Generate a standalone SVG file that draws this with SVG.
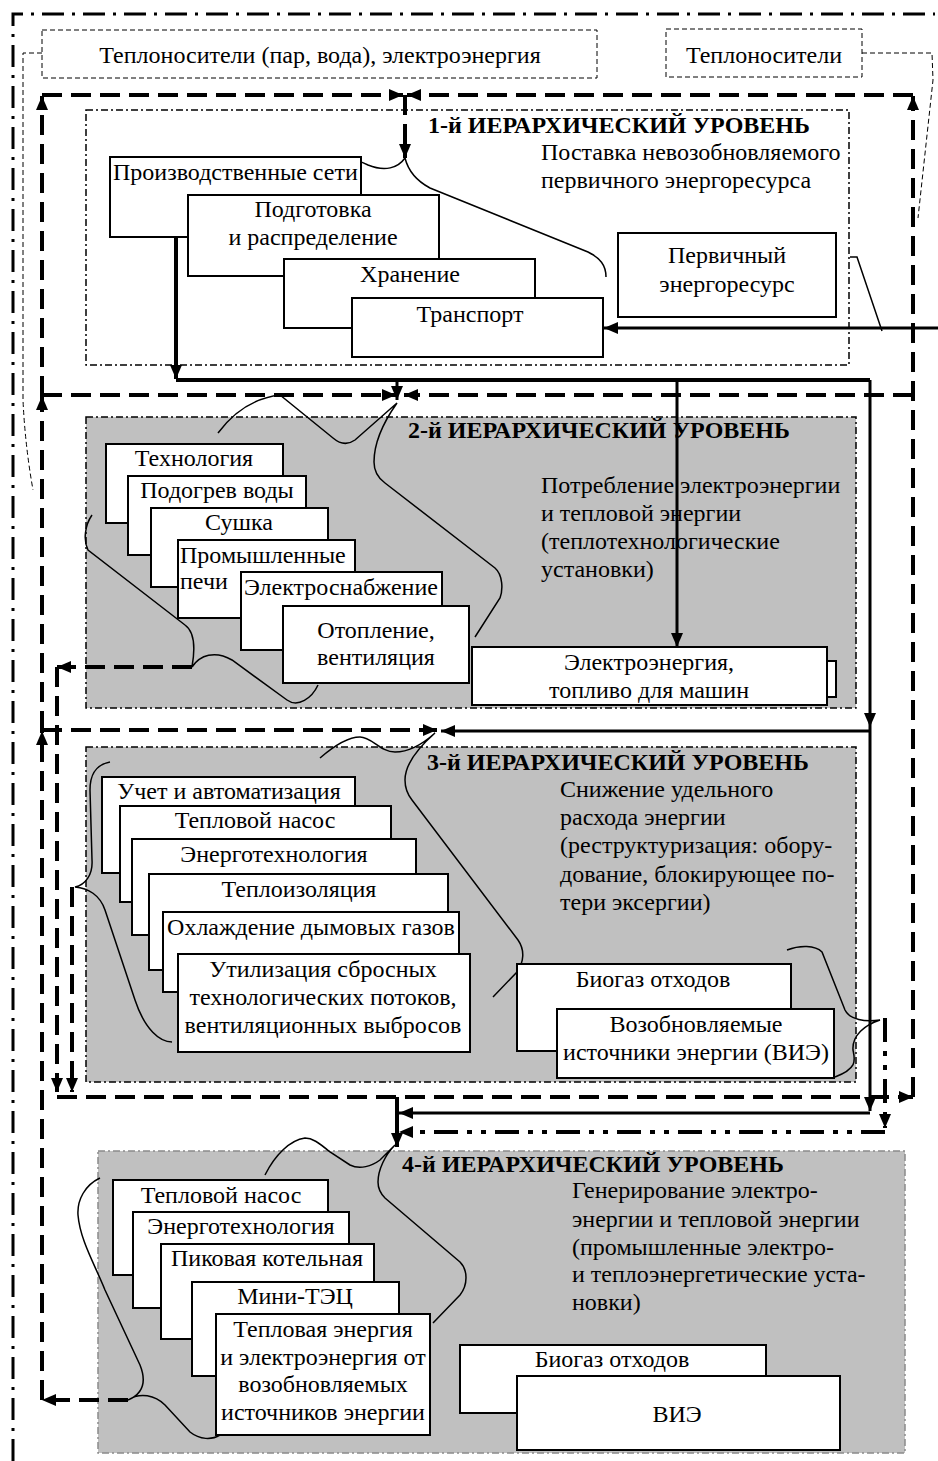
<svg xmlns="http://www.w3.org/2000/svg" width="938" height="1461" viewBox="0 0 938 1461">
<style>
.t{font-family:"Liberation Serif","Times New Roman",serif;font-size:24px;fill:#000}
.c{text-anchor:middle}
.b{font-weight:bold}
.box{fill:#fff;stroke:#000;stroke-width:2}
.lv{stroke:#000;stroke-width:1.5;stroke-dasharray:7 3 2 3}
.lv4{stroke:#8a8a8a;stroke-width:1.5;stroke-dasharray:7 3 2 3}
.br{fill:none;stroke:#000;stroke-width:1.5}
.dsh{fill:none;stroke:#000;stroke-width:4;stroke-dasharray:20 9}
.sol{fill:none;stroke:#000;stroke-width:4}
.sol3{fill:none;stroke:#000;stroke-width:3}
.ddt{fill:none;stroke:#000;stroke-width:4;stroke-dasharray:24 9 5 9 5 9}
.thd{fill:none;stroke:#000;stroke-width:1;stroke-dasharray:5 3}
.frm{fill:none;stroke:#000;stroke-width:3;stroke-dasharray:22 8 3 8}
</style>
<defs>
<marker id="ah" markerWidth="14" markerHeight="12" refX="14" refY="6" orient="auto" markerUnits="userSpaceOnUse"><path d="M0,0 L14,6 L0,12 z" fill="#000"/></marker>
</defs>
<rect width="938" height="1461" fill="#fff"/>

<!-- outer frame -->
<path class="frm" d="M13 1461 L13 14 L935 14"/>

<!-- top labels -->
<g id="carriers">
<rect class="thd" x="42" y="30" width="555" height="48" fill="#fff"/>
<text class="t c" x="320" y="63">Теплоносители (пар, вода), электроэнергия</text>
</g>
<g id="carriers2">
<rect class="thd" x="666" y="29" width="196" height="48" fill="#fff"/>
<text class="t c" x="764" y="63">Теплоносители</text>
</g>

<!-- level containers -->
<g id="level1">
<rect class="lv" x="86" y="110" width="763" height="255" fill="#fff"/>
<text class="t b" x="428" y="133">1-й ИЕРАРХИЧЕСКИЙ УРОВЕНЬ</text>
<text class="t" x="541" y="160">Поставка невозобновляемого</text>
<text class="t" x="541" y="188">первичного энергоресурса</text>
</g>
<g id="level2">
<rect class="lv" x="86" y="417" width="770" height="291" fill="#c0c0c0"/>
<text class="t b" x="408" y="438">2-й ИЕРАРХИЧЕСКИЙ УРОВЕНЬ</text>
<text class="t" x="541" y="493">Потребление электроэнергии</text>
<text class="t" x="541" y="521">и тепловой энергии</text>
<text class="t" x="541" y="549">(теплотехнологические</text>
<text class="t" x="541" y="577">установки)</text>
</g>
<g id="level3">
<rect class="lv" x="86" y="747" width="770" height="335" fill="#c0c0c0"/>
<text class="t b" x="427" y="770">3-й ИЕРАРХИЧЕСКИЙ УРОВЕНЬ</text>
<text class="t" x="560" y="797">Снижение удельного</text>
<text class="t" x="560" y="825">расхода энергии</text>
<text class="t" x="560" y="853">(реструктуризация: обору-</text>
<text class="t" x="560" y="882">дование, блокирующее по-</text>
<text class="t" x="560" y="910">тери эксергии)</text>
</g>
<g id="level4">
<rect class="lv4" x="98" y="1151" width="807" height="302" fill="#c0c0c0"/>
<text class="t b" x="402" y="1172">4-й ИЕРАРХИЧЕСКИЙ УРОВЕНЬ</text>
<text class="t" x="572" y="1198">Генерирование электро-</text>
<text class="t" x="572" y="1227">энергии и тепловой энергии</text>
<text class="t" x="572" y="1255">(промышленные электро-</text>
<text class="t" x="572" y="1282">и теплоэнергетические уста-</text>
<text class="t" x="572" y="1310">новки)</text>
</g>

<!-- connectors and braces -->
<g id="connectors">
<path class="thd" d="M42 53 L23 53 L23 400 Q25 445 33 490"/>
<path class="thd" d="M862 53 L932 53 L933 80 L918 218"/>
<path class="dsh" d="M42 95 L403 95" marker-end="url(#ah)"/>
<path class="dsh" d="M913 95 L407 95" marker-end="url(#ah)"/>
<path class="dsh" d="M405 95 L405 158" marker-end="url(#ah)"/>
<path class="dsh" d="M42 396 L42 96" marker-end="url(#ah)"/>
<path class="dsh" d="M913 1097 L913 96" marker-end="url(#ah)"/>
<path class="dsh" d="M42 395 L396 395" marker-end="url(#ah)"/>
<path class="dsh" d="M913 395 L404 395" marker-end="url(#ah)"/>
<path class="dsh" d="M42 731 L42 396" marker-end="url(#ah)"/>
<path class="dsh" d="M192 667 L57 667" marker-end="url(#ah)"/>
<path class="dsh" d="M57 667 L57 1092" marker-end="url(#ah)"/>
<path class="dsh" d="M42 730 L437 730" marker-end="url(#ah)"/>
<path class="dsh" d="M42 1400 L42 731" marker-end="url(#ah)"/>
<path class="dsh" d="M72 887 L72 1092" marker-end="url(#ah)"/>
<path class="dsh" d="M57 1097 L913 1097" marker-end="url(#ah)"/>
<path class="dsh" d="M128 1400 L42 1400" marker-end="url(#ah)"/>
<path class="sol" d="M397 1097 L397 1147" marker-end="url(#ah)"/>
<path class="sol" d="M176 237 L176 379" marker-end="url(#ah)"/>
<path class="sol" d="M176 380 L870 380"/>
<path class="sol3" d="M397 380 L397 400" marker-end="url(#ah)"/>
<path class="sol3" d="M677 380 L677 647" marker-end="url(#ah)"/>
<path class="sol3" d="M870 380 L870 727" marker-end="url(#ah)"/>
<path class="sol3" d="M870 727 L870 1111" marker-end="url(#ah)"/>
<path class="sol3" d="M870 731 L441 731" marker-end="url(#ah)"/>
<path class="sol3" d="M870 1113 L399 1113" marker-end="url(#ah)"/>
<path class="ddt" d="M885 1018 L885 1128" marker-end="url(#ah)"/>
<path class="ddt" d="M885 1132 L399 1132" marker-end="url(#ah)"/>
<path class="sol3" d="M938 328 L604 328" stroke-width="2" marker-end="url(#ah)"/>
<path class="br" d="M850 257 L857 257 L882 331"/>
<path class="br" d="M333 163 C345 155 358 160 368 165 C385 172 398 168 405 158 C408 170 415 180 430 188 L588 252 C600 258 606 265 606 277"/>
<path class="br" d="M218 433 C235 410 255 398 280 395 L333 438 C340 444 348 445 355 440 L397 403 C385 420 374 440 374 462 C374 472 378 478 385 483 L495 568 C503 575 503 590 500 598 L475 637"/>
<path class="br" d="M92 515 C85 525 83 540 88 550 L185 625 C195 632 195 650 192 667 C200 655 215 650 232 660 L287 700 C298 708 312 698 318 685"/>
<path class="br" d="M320 758 C335 745 350 737 360 737 C372 737 380 752 395 752 C410 752 425 742 435 733 C418 748 405 765 405 780 C405 790 408 795 412 800 L518 940 C525 950 524 962 517 972 L493 997"/>
<path class="br" d="M110 762 C95 765 90 775 90 790 L92 860 C93 875 85 885 75 887 C88 888 100 895 105 910 L135 1000 C145 1030 160 1042 172 1042"/>
<path class="br" d="M787 950 C800 945 815 945 822 952 L845 1010 C850 1020 865 1022 880 1020 C865 1025 852 1035 853 1050 C855 1060 858 1068 835 1077"/>
<path class="br" d="M265 1175 C275 1155 290 1140 305 1138 C312 1138 318 1142 330 1152 L350 1165 C360 1170 372 1166 380 1160 L395 1145 C385 1155 378 1170 378 1182 C378 1190 382 1195 385 1198 L460 1262 C468 1270 468 1285 460 1295 L433 1323"/>
<path class="br" d="M100 1178 C85 1185 77 1200 78 1215 C80 1240 95 1265 105 1290 L140 1365 C148 1385 140 1395 128 1400 C140 1392 155 1395 165 1405 L190 1432 C200 1440 212 1440 220 1435"/>
</g>

<!-- level 1 nodes -->
<g id="n-seti"><rect class="box" x="110" y="157" width="251" height="80"/><text class="t" x="113" y="180">Производственные сети</text></g>
<g id="n-podg"><rect class="box" x="188" y="195" width="251" height="81"/><text class="t c" x="313" y="217">Подготовка</text><text class="t c" x="313" y="245">и распределение</text></g>
<g id="n-hran"><rect class="box" x="284" y="259" width="251" height="69"/><text class="t c" x="410" y="282">Хранение</text></g>
<g id="n-trans"><rect class="box" x="352" y="298" width="251" height="59"/><text class="t c" x="470" y="322">Транспорт</text></g>
<g id="n-perv"><rect class="box" x="618" y="233" width="218" height="84"/><text class="t c" x="727" y="263">Первичный</text><text class="t c" x="727" y="292">энергоресурс</text></g>

<!-- level 2 nodes -->
<g id="n-tech"><rect class="box" x="106" y="444" width="177" height="79"/><text class="t c" x="194" y="466">Технология</text></g>
<g id="n-podogr"><rect class="box" x="128" y="476" width="178" height="79"/><text class="t c" x="217" y="498">Подогрев воды</text></g>
<g id="n-sush"><rect class="box" x="151" y="508" width="177" height="79"/><text class="t c" x="239" y="530">Сушка</text></g>
<g id="n-pechi"><rect class="box" x="178" y="540" width="177" height="78"/><text class="t" x="180" y="563">Промышленные</text><text class="t" x="180" y="589">печи</text></g>
<g id="n-elsn"><rect class="box" x="241" y="572" width="201" height="78"/><text class="t c" x="341" y="595">Электроснабжение</text></g>
<g id="n-otop"><rect class="box" x="283" y="606" width="186" height="77"/><text class="t c" x="376" y="638">Отопление,</text><text class="t c" x="376" y="665">вентиляция</text></g>
<g id="n-eltop"><rect class="box" x="827" y="661" width="9" height="36"/><rect class="box" x="472" y="647" width="355" height="58"/><text class="t c" x="649" y="670">Электроэнергия,</text><text class="t c" x="649" y="698">топливо для машин</text></g>

<!-- level 3 nodes -->
<g id="n-uchet"><rect class="box" x="102" y="777" width="253" height="96"/><text class="t c" x="229" y="799">Учет и автоматизация</text></g>
<g id="n-tn3"><rect class="box" x="120" y="806" width="271" height="96"/><text class="t c" x="255" y="828">Тепловой насос</text></g>
<g id="n-et3"><rect class="box" x="132" y="839" width="284" height="96"/><text class="t c" x="274" y="862">Энерготехнология</text></g>
<g id="n-izol"><rect class="box" x="149" y="874" width="299" height="96"/><text class="t c" x="299" y="897">Теплоизоляция</text></g>
<g id="n-ohl"><rect class="box" x="163" y="912" width="296" height="80"/><text class="t c" x="311" y="935">Охлаждение дымовых газов</text></g>
<g id="n-util"><rect class="box" x="178" y="954" width="292" height="98"/><text class="t c" x="323" y="977">Утилизация сбросных</text><text class="t c" x="323" y="1005">технологических потоков,</text><text class="t c" x="323" y="1033">вентиляционных выбросов</text></g>
<g id="n-bio3"><rect class="box" x="517" y="964" width="274" height="87"/><text class="t c" x="653" y="987">Биогаз отходов</text></g>
<g id="n-vie3"><rect class="box" x="557" y="1009" width="277" height="69"/><text class="t c" x="696" y="1032">Возобновляемые</text><text class="t c" x="696" y="1060">источники энергии (ВИЭ)</text></g>

<!-- level 4 nodes -->
<g id="n-tn4"><rect class="box" x="113" y="1180" width="215" height="95"/><text class="t c" x="221" y="1203">Тепловой насос</text></g>
<g id="n-et4"><rect class="box" x="133" y="1212" width="216" height="96"/><text class="t c" x="241" y="1234">Энерготехнология</text></g>
<g id="n-pik"><rect class="box" x="161" y="1244" width="213" height="95"/><text class="t c" x="267" y="1266">Пиковая котельная</text></g>
<g id="n-mini"><rect class="box" x="192" y="1282" width="207" height="94"/><text class="t c" x="295" y="1304">Мини-ТЭЦ</text></g>
<g id="n-teplvie"><rect class="box" x="216" y="1314" width="214" height="121"/><text class="t c" x="323" y="1337">Тепловая энергия</text><text class="t c" x="323" y="1365">и электроэнергия от</text><text class="t c" x="323" y="1392">возобновляемых</text><text class="t c" x="323" y="1420">источников энергии</text></g>
<g id="n-bio4"><rect class="box" x="460" y="1345" width="306" height="68"/><text class="t c" x="612" y="1367">Биогаз отходов</text></g>
<g id="n-vie4"><rect class="box" x="517" y="1376" width="323" height="74"/><text class="t c" x="677" y="1422">ВИЭ</text></g>
</svg>
